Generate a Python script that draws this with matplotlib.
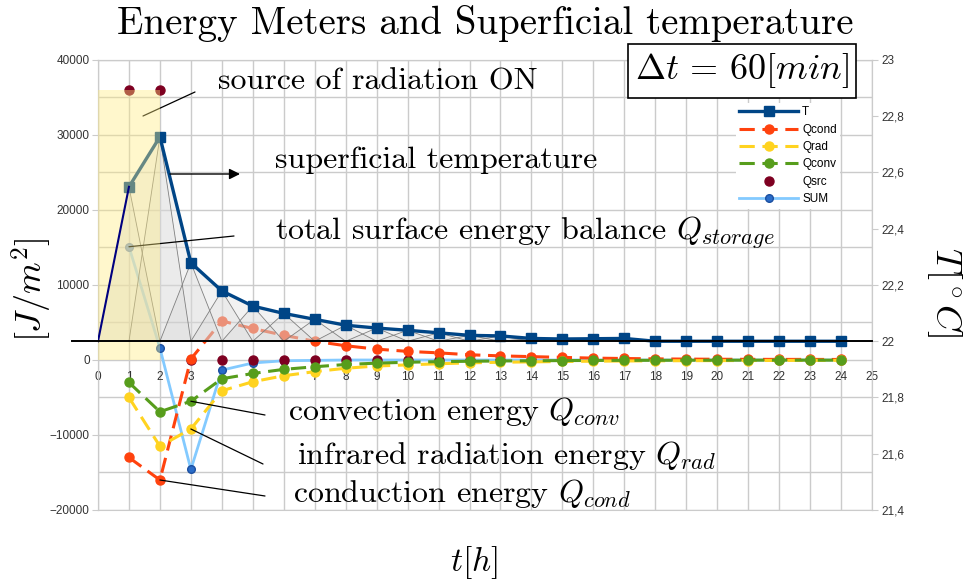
import numpy as np
import matplotlib
matplotlib.use("Agg")
import matplotlib.pyplot as plt
from matplotlib import transforms
from matplotlib.patches import Polygon, Rectangle

plt.rcParams['mathtext.fontset'] = 'cm'
plt.rcParams['font.family'] = ['Liberation Sans', 'DejaVu Sans']

# surface temperature, hourly (deg C)
hours = list(range(0, 25))
temp = [22.0, 22.549, 22.727, 22.279, 22.179, 22.125, 22.099, 22.078, 22.057,
        22.047, 22.039, 22.030, 22.021, 22.019, 22.010, 22.008, 22.009, 22.010,
        22.0, 22.0, 22.0, 22.0, 22.0, 22.0, 22.0]

# energy meters (J/m^2), hours 1..24
q_hours = list(range(1, 25))
q_cond = [-13000, -16000, 130, 5200, 4200, 3300, 2500, 1900, 1450, 1150, 950,
          700, 550, 450, 350, 250, 200, 150, 120, 100, 90, 80, 80, 70]
q_rad = [-5000, -11500, -9200, -4100, -2900, -2100, -1550, -1100, -800, -650,
         -500, -380, -300, -250, -200, -160, -130, -110, -90, -80, -70, -60,
         -50, -50]
q_conv = [-3000, -6900, -5500, -2500, -1800, -1250, -900, -600, -420, -300,
          -220, -170, -130, -100, -80, -60, -50, -40, -30, -30, -20, -20, -20,
          -20]
q_src = [36000, 36000, 0, 0, 0, 0, 0, 0, 0, 0, 0, 0, 0, 0, 0, 0, 0, 0, 0, 0,
         0, 0, 0, 0]
q_sum = [15100, 1600, -14600, -1350, -400, -100, -50, 0, 0, 0, 0, 0, 0, 0, 0,
         0, 0, 0, 0, 0, 0, 0, 0, 0]

source_on = (0, 2)       # hours with the lamp switched on
source_level = 36000

left_ticks = list(range(-20000, 40001, 10000))
right_ticks = [21.4, 21.6, 21.8, 22.0, 22.2, 22.4, 22.6, 22.8, 23.0]
right_labels = ['21,4', '21,6', '21,8', '22', '22,2', '22,4', '22,6', '22,8', '23']

W, H = 970, 581
def fx(px):
    return px / W
def fy(py):
    return 1 - py / H

grid_c = '#cbcbcb'
tick_c = '#333333'

fig = plt.figure(figsize=(W / 100, H / 100), dpi=100)
ax = fig.add_axes([fx(98), fy(510), 774 / W, 450 / H])
ax2 = ax.twinx()

ax.set_xlim(0, 25)
ax.set_ylim(-20000, 40000)
ax2.set_ylim(21.4, 23)

ax.set_xticks(range(0, 26))
ax.set_yticks(left_ticks)
ax.set_yticks(range(-20000, 40001, 5000), minor=True)
ax.grid(True, which='both', color=grid_c, lw=1)
ax.set_axisbelow(True)
ax.tick_params(axis='y', which='minor', length=0)
ax.tick_params(axis='y', which='major', length=4, color=grid_c, direction='out',
               labelsize=8.5, labelcolor=tick_c, pad=2)
ax.spines['bottom'].set_position(('data', 0))
ax.tick_params(axis='x', length=0, pad=8, labelsize=8.5, labelcolor=tick_c)

ax2.set_yticks(right_ticks)
ax2.set_yticklabels(right_labels)
ax2.tick_params(axis='y', length=4, color=grid_c, direction='out',
                labelsize=8.5, labelcolor=tick_c, pad=3)
for a in (ax, ax2):
    for s in a.spines.values():
        s.set_color(grid_c)
ax.spines['bottom'].set_visible(False)

dash = (0, (5, 2.5))

# energy series on the left axis
l_sum, = ax.plot(q_hours, q_sum, color='#83caff', lw=2, marker='o', ms=5.5,
                 mfc='#2a6cc8', mec='#1b4fa0', zorder=3)
l_src, = ax.plot(q_hours, q_src, ls='none', marker='o', ms=6.5,
                 color='#7e0021', zorder=4)
l_cond, = ax.plot(q_hours, q_cond, color='#ff420e', lw=2.2, ls=dash,
                  marker='o', ms=6.5, zorder=5)
l_rad, = ax.plot(q_hours, q_rad, color='#ffd320', lw=2.2, ls=dash,
                 marker='o', ms=6.5, zorder=6)
l_conv, = ax.plot(q_hours, q_conv, color='#579d1c', lw=2.2, ls=dash,
                  marker='o', ms=6.5, zorder=7)

# area under the temperature curve + hourly tents
ax2.fill_between(hours, 22, temp, color='#e4e4e4', alpha=0.45, lw=0, zorder=1)
for k in range(1, len(hours)):
    tri = Polygon([(hours[k] - 1, 22), (hours[k], temp[k]), (hours[k] + 1, 22)],
                  closed=True, facecolor='#bcbcbc', alpha=0.13,
                  edgecolor='none', zorder=1)
    ax2.add_patch(tri)
    ax2.plot([hours[k] - 1, hours[k], hours[k] + 1], [22, temp[k], 22],
             color='#808080', lw=0.6, zorder=1.5)

l_t, = ax2.plot(hours[1:], temp[1:], color='#004586', lw=2.4, marker='s',
                ms=7, zorder=3)

# radiation source window
rect = Rectangle((source_on[0], 0), source_on[1] - source_on[0], source_level,
                 transform=ax.transData, facecolor='#ffeb80', alpha=0.4,
                 edgecolor='none', zorder=4)
ax2.add_patch(rect)

ax2.plot(hours[:2], temp[:2], color='#000080', lw=1.5, zorder=5)

# reference line at 22 C
blend = transforms.blended_transform_factory(fig.transFigure, ax2.transData)
ax2.plot([fx(72), fx(872)], [22, 22], color='black', lw=1.4,
         transform=blend, clip_on=False, zorder=5)

# legend
handles = [l_t, l_cond, l_rad, l_conv, l_src, l_sum]
labels = ['T', 'Qcond', 'Qrad', 'Qconv', 'Qsrc', 'SUM']
leg = fig.legend(handles, labels, loc='upper left',
                 bbox_to_anchor=(fx(730), fy(97)), fontsize=8.5,
                 handlelength=5, labelspacing=0.45, borderpad=0.3,
                 handletextpad=0.3, frameon=True, fancybox=False)
leg.get_frame().set_facecolor('white')
leg.get_frame().set_edgecolor('none')
leg.get_frame().set_alpha(1)

cm = dict(fontfamily='cmr10', color='black')

fig.text(fx(485), fy(24), 'Energy Meters and Superficial temperature',
         fontsize=28, ha='center', va='center', **cm)
fig.text(fx(742), fy(71), r'$\Delta t\,=\,60[min]$', fontsize=26,
         ha='center', va='center',
         bbox=dict(boxstyle='square,pad=0.2', fc='white', ec='black', lw=1.2))

fig.text(fx(218), fy(82), 'source of radiation ON', fontsize=23,
         ha='left', va='center', **cm)
fig.text(fx(275), fy(160), 'superficial temperature', fontsize=23,
         ha='left', va='center', **cm)
fig.text(fx(275), fy(233), r'total surface energy balance $Q_{storage}$',
         fontsize=23, ha='left', va='center', **cm)
fig.text(fx(288), fy(412), r'convection energy $Q_{conv}$', fontsize=23,
         ha='left', va='center', **cm)
fig.text(fx(297), fy(456), r'infrared radiation energy $Q_{rad}$',
         fontsize=23, ha='left', va='center', **cm)
fig.text(fx(293), fy(493), r'conduction energy $Q_{cond}$', fontsize=23,
         ha='left', va='center', **cm)

fig.text(fx(32), fy(290), r'$[J/m^2]$', fontsize=26, rotation=90,
         ha='center', va='center')
fig.text(fx(945), fy(292), r'$T[^\circ C]$', fontsize=26, rotation=-90,
         ha='center', va='center')
fig.text(fx(474), fy(563), r'$t[h]$', fontsize=24, ha='center', va='center')

# pointer lines
line_kw = dict(arrowprops=dict(arrowstyle='-', color='black', lw=0.9,
                               shrinkA=0, shrinkB=0))
ax2.annotate('', xy=(fx(143), fy(116)), xycoords='figure fraction',
             xytext=(fx(195), fy(92)), textcoords='figure fraction', **line_kw)
ax2.annotate('', xy=(fx(240), fy(174)), xycoords='figure fraction',
             xytext=(fx(170), fy(174)), textcoords='figure fraction',
             arrowprops=dict(arrowstyle='-|>', color='black', lw=1,
                             mutation_scale=16, shrinkA=0, shrinkB=0))
ax2.annotate('', xy=(q_hours[0], q_sum[0]), xycoords=ax.transData,
             xytext=(fx(234), fy(236)), textcoords='figure fraction', **line_kw)
ax2.annotate('', xy=(q_hours[2], q_conv[2]), xycoords=ax.transData,
             xytext=(fx(265), fy(415)), textcoords='figure fraction', **line_kw)
ax2.annotate('', xy=(q_hours[2], q_rad[2]), xycoords=ax.transData,
             xytext=(fx(263), fy(464)), textcoords='figure fraction', **line_kw)
ax2.annotate('', xy=(q_hours[1], q_cond[1]), xycoords=ax.transData,
             xytext=(fx(265), fy(496)), textcoords='figure fraction', **line_kw)

fig.savefig('out.png', dpi=100)
